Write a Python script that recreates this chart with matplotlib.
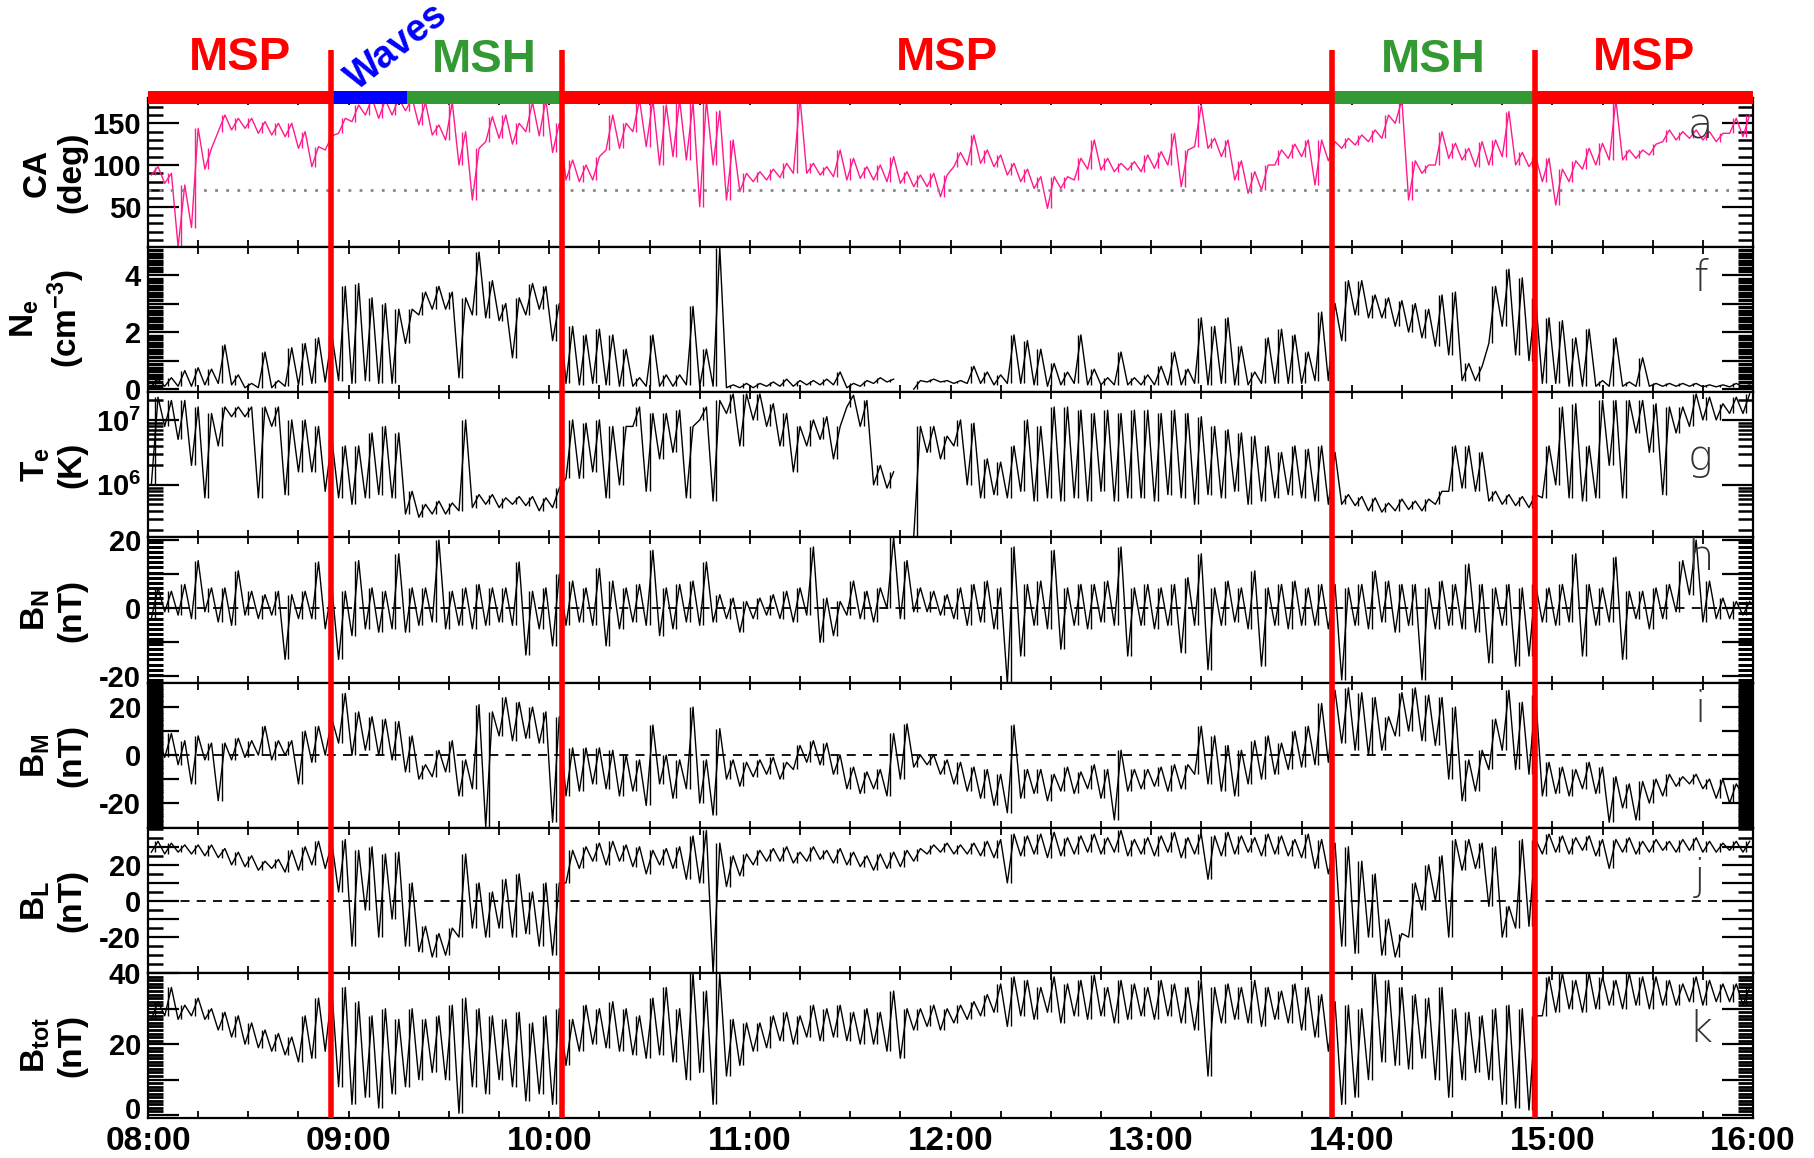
import numpy as np
import matplotlib
matplotlib.use("Agg")
import matplotlib.pyplot as plt
import matplotlib.ticker as mtick
from matplotlib.lines import Line2D
from matplotlib.transforms import blended_transform_factory, ScaledTranslation

plt.rcParams["font.family"] = ["Liberation Sans", "DejaVu Sans"]
plt.rcParams["mathtext.fontset"] = "custom"
plt.rcParams["mathtext.rm"] = "Liberation Sans"
plt.rcParams["mathtext.bf"] = "Liberation Sans:bold"
plt.rcParams["mathtext.default"] = "bf"
plt.rcParams["axes.unicode_minus"] = False

#%% data: 4-min bins from 08:00, low / high value read in each bin
nan = np.nan

ca_lo = [88, 78, 2, 25, 95, 140, 142, 144, 138, 136,
         134, 120, 98, 118, 138, 152, 160, 156, 160, 165,
         148, 136, 130, 100, 58, 128, 132, 125, 140, 135,
         115, 82, 80, 82, 118, 120, 140, 122, 100, 110,
         106, 50, 100, 58, 68, 80, 82, 85, 90, 90,
         88, 86, 82, 84, 82, 80, 78, 74, 74, 62,
         98, 100, 102, 98, 88, 80, 72, 48, 72, 82,
         95, 94, 92, 94, 92, 96, 100, 74, 122, 120,
         110, 82, 66, 70, 100, 108, 110, 76, 105, 120,
         124, 128, 132, 150, 58, 90, 100, 108, 106, 98,
         100, 110, 100, 98, 80, 52, 80, 95, 100, 106,
         106, 108, 112, 128, 130, 132, 130, 128, 138, 134]
ca_hi = [98, 90, 76, 144, 120, 160, 156, 156, 152, 150,
         150, 140, 122, 135, 156, 172, 180, 178, 180, 180,
         175, 148, 175, 140, 120, 158, 160, 150, 175, 178,
         150, 106, 100, 110, 160, 150, 178, 178, 172, 178,
         175, 178, 165, 130, 90, 92, 95, 102, 180, 102,
         98, 118, 108, 98, 100, 110, 92, 88, 90, 88,
         115, 136, 118, 112, 102, 95, 86, 86, 86, 108,
         130, 108, 102, 104, 112, 116, 138, 118, 172, 132,
         130, 105, 92, 100, 118, 125, 130, 130, 128, 132,
         136, 142, 160, 178, 105, 100, 140, 126, 120, 128,
         130, 164, 115, 110, 108, 95, 105, 120, 126, 178,
         118, 118, 125, 142, 140, 142, 140, 138, 156, 160]

ne_lo = [0.1, 0.1, 0.1, 0.1, 0.15, 0.2, 0.15, 0.05, 0.05, 0.05,
         0.1, 0.15, 0.2, 0.25, 0.3, 0.2, 0.3, 0.2, 0.2, 1.6,
         2.6, 2.8, 2.8, 0.4, 2.6, 2.5, 2.4, 1.1, 2.6, 2.8,
         1.7, 0.2, 0.15, 0.2, 0.15, 0.1, 0.1, 0.1, 0.1, 0.1,
         0.15, 0.1, 0.1, 0.05, 0.05, 0.05, 0.1, 0.1, 0.1, 0.15,
         0.15, 0.15, 0.05, 0.1, 0.2, 0.25, nan, 0.0, 0.25, 0.25,
         0.2, 0.2, 0.2, 0.15, 0.2, 0.2, 0.15, 0.1, 0.15, 0.2,
         0.15, 0.15, 0.15, 0.15, 0.15, 0.15, 0.15, 0.15, 0.2, 0.15,
         0.2, 0.15, 0.15, 0.2, 0.2, 0.2, 0.2, 0.3, 0.3, 1.7,
         2.6, 2.5, 2.5, 2.2, 2.0, 1.8, 1.5, 1.2, 0.3, 0.3,
         1.6, 2.2, 1.2, 1.0, 0.2, 0.2, 0.1, 0.1, 0.1, 0.1,
         0.1, 0.1, 0.1, 0.1, 0.1, 0.1, 0.08, 0.08, 0.08, 0.08]
ne_hi = [0.35, 0.4, 0.65, 0.75, 0.7, 1.55, 0.5, 0.2, 1.3, 0.3,
         1.45, 1.6, 1.8, 1.9, 3.6, 3.7, 3.2, 3.0, 2.8, 2.8,
         3.4, 3.6, 3.4, 3.2, 4.8, 3.8, 3.0, 3.2, 3.7, 3.6,
         3.0, 2.2, 1.9, 2.1, 1.9, 1.4, 0.4, 1.9, 0.5, 0.5,
         2.9, 1.4, 4.95, 0.15, 0.2, 0.2, 0.25, 0.35, 0.3, 0.3,
         0.35, 0.6, 0.2, 0.3, 0.4, 0.35, nan, 0.3, 0.35, 0.3,
         0.3, 0.8, 0.6, 0.5, 1.9, 1.7, 1.4, 0.9, 0.6, 1.9,
         0.7, 0.4, 1.3, 0.4, 0.5, 0.8, 1.3, 0.7, 2.5, 2.2,
         2.5, 1.5, 0.6, 1.8, 2.1, 1.9, 1.3, 2.7, 3.0, 3.8,
         3.8, 3.3, 3.2, 3.1, 3.0, 2.8, 3.3, 3.4, 0.9, 0.8,
         3.6, 4.2, 3.9, 3.2, 2.5, 2.4, 1.8, 2.1, 0.3, 1.8,
         0.25, 1.1, 0.2, 0.2, 0.2, 0.2, 0.15, 0.15, 0.2, 0.15]

# log10(Te)
te_lo = [6.0, 6.9, 6.7, 6.3, 5.8, 6.6, 7.05, 7.05, 5.8, 6.9,
         5.85, 6.2, 6.2, 5.9, 5.8, 5.7, 5.8, 5.85, 5.8, 5.55,
         5.5, 5.55, 5.55, 5.6, 5.65, 5.7, 5.65, 5.7, 5.68, 5.6,
         5.65, 6.1, 6.1, 6.2, 5.8, 6.0, 6.9, 5.9, 6.4, 6.5,
         5.8, 7.0, 5.75, 7.1, 6.6, 7.0, 6.9, 6.6, 6.2, 6.6,
         6.7, 6.4, 7.2, 6.9, 6.0, 5.95, nan, 5.2, 6.5, 6.4,
         6.6, 6.0, 5.8, 5.85, 5.8, 5.9, 5.75, 5.8, 5.75, 5.8,
         5.75, 5.9, 5.75, 5.8, 5.8, 5.75, 5.85, 5.8, 5.7, 5.85,
         5.8, 5.9, 5.7, 5.75, 5.8, 5.85, 5.8, 5.75, 5.7, 5.7,
         5.68, 5.6, 5.58, 5.6, 5.62, 5.6, 5.7, 5.9, 5.95, 5.9,
         5.75, 5.7, 5.68, 5.65, 5.8, 6.0, 5.8, 5.75, 5.8, 6.3,
         5.8, 6.8, 6.5, 5.85, 6.8, 6.9, 7.0, 7.0, 7.1, 7.1]
te_hi = [7.35, 7.3, 7.3, 7.2, 7.1, 7.2, 7.2, 7.2, 7.2, 7.2,
         7.0, 7.0, 6.9, 6.7, 6.6, 6.6, 6.8, 6.9, 6.8, 5.9,
         5.7, 5.75, 5.72, 7.0, 5.85, 5.85, 5.8, 5.82, 5.82, 5.8,
         5.95, 7.0, 6.95, 7.0, 6.9, 6.9, 7.2, 7.1, 7.1, 7.15,
         6.9, 7.2, 7.3, 7.4, 7.4, 7.4, 7.25, 7.1, 6.9, 7.0,
         7.05, 6.9, 7.38, 7.3, 6.3, 6.2, nan, 6.9, 6.9, 6.75,
         7.0, 6.95, 6.4, 6.35, 6.6, 7.0, 6.9, 7.2, 7.2, 7.15,
         7.1, 7.15, 7.1, 7.15, 7.15, 7.1, 7.15, 7.1, 7.05, 6.9,
         6.85, 6.8, 6.75, 6.6, 6.5, 6.6, 6.55, 6.6, 6.5, 5.85,
         5.82, 5.8, 5.72, 5.78, 5.75, 5.78, 5.9, 6.6, 6.6, 6.5,
         5.9, 5.85, 5.82, 5.85, 6.6, 7.2, 7.25, 6.6, 7.3, 7.3,
         7.3, 7.3, 7.25, 7.2, 7.2, 7.4, 7.35, 7.25, 7.35, 7.4]

bn_lo = [-3, -1, -2, -3, -1, -4, -5, -2, -3, -2,
         -15, -3, -3, -6, -15, -8, -6, -7, -6, -7,
         -5, -4, -6, -5, -6, -5, -4, -5, -13.7, -6,
         -11, -5, -4, -5, -11, -6, -4, -5, -8, -6,
         -4, -5, -4, -3, -7, -3, -2, -3, -4, -2,
         -10, -8, -2, -3, -4, 0, -3, -1, -1, -2,
         -3, -5, -4, -6, -22, -14, -5, -6, -12, -5,
         -6, -4, -5, -14, -5, -6, -5, -13, -5, -18,
         -5, -4, -6, -17, -5, -6, -5, -5, -6, -21,
         -5, -6, -4, -7, -5, -21, -6, -5, -6, -7,
         -16, -5, -17, -14, -4, -5, -4, -14, -5, -4,
         -15, -3, -6, -3, -1, 4, -4, -3, -3, -2]
bn_hi = [6, 5, 7, 14, 6, 6, 11, 5, 4, 5,
         4, 5, 13.6, 6, 5, 14, 6, 5, 16, 6,
         6, 20, 5, 6, 7, 6, 6, 13.6, 5, 6,
         10, 8, 6, 11.7, 8, 6, 7, 17, 6, 7,
         8, 13.6, 4, 3, 2, 3, 4, 5, 6, 18,
         3, 2, 8, 5, 6, 20.8, 14, 6, 5, 4,
         6, 7, 8, 6, 18, 7, 8, 17, 6, 7,
         7, 8, 18, 6, 7, 6, 7, 9, 16, 6,
         8, 6, 11, 6, 7, 8, 6, 7, 7, 6,
         7, 11, 8, 7, 7, 6, 8, 7, 13, 7,
         6, 7, 6, 7, 6, 7, 16, 7, 6, 15,
         5, 5, 6, 7, 14, 20, 8, 3, 2, 2]

bm_lo = [-2, -1, -4, -12, -2, -19, -2, -1, 0, -2,
         0, -12, -3, 0, 5, 0, 2, 0, -2, -7,
         -10, -9, -7, -17, -14, -30, 8, 6, 7, 5,
         -28, -17, -15, -12, -14, -17, -15, -21, -12, -18,
         -14, -20, -25, -10, -13, -9, -8, -10, -6, -3,
         -4, -8, -14, -16, -14, -17, -10, -5, -4, -8,
         -12, -15, -18, -21, -24, -18, -16, -19, -15, -16,
         -14, -18, -27, -15, -14, -13, -15, -14, -8, -12,
         -15, -17, -12, -10, -8, -6, -5, -4, -3, 5,
         2, 0, 2, 8, 10, 6, 4, -10, -19, -15,
         -6, 2, -6, -8, -17, -16, -17, -14, -16, -28,
         -22, -27, -20, -17, -13, -12, -14, -18, -20, -17]
bm_hi = [8, 9, 6, 8, 5, 5, 7, 6, 12, 6,
         6, 10, 12, 15, 25.7, 18, 16, 15, 14, 8,
         -4, 2, 6, -2, 21, 18, 24, 22, 20, 18,
         16, 3, 3, 3, 2, 0, -2, 12.5, 0, -2,
         20, -2, 11, -2, -3, -2, -1, -3, 4, 6,
         5, 0, -5, -7, -6, 9, 13, 0, 0, -2,
         -3, -5, -6, -8, 12.5, -6, -6, -8, -5, -7,
         -4, -6, 2, -6, -6, -5, -4, -4, 12, 8,
         4, 2, 6, 8, 5, 10, 12, 21.5, 27, 28,
         26, 24, 16, 26, 28, 25, 24, 20, -2, 2,
         15, 27, 22, 25, -3, -5, -6, -3, -5, -9,
         -12, -11, -10, -8, -9, -8, -10, -10, -12, -12]

bl_lo = [27, 26, 27, 26, 25, 24, 20, 19, 17, 18,
         16, 17, 20, 18, 5, -25, -5, -20, -10, -25,
         -28, -31, -30, -20, -15, -20, -15, -20, -18, -25,
         -30, 10, 18, 22, 20, 22, 19, 15, 20, 18,
         12, 10, -40, 8, 14, 20, 22, 22, 21, 22,
         23, 21, 20, 19, 17, 18, 19, 22, 26, 27,
         26, 26, 25, 24, 10, 25, 26, 24, 25, 26,
         27, 26, 27, 25, 26, 25, 27, 24, 26, 12,
         25, 26, 27, 25, 26, 25, 24, 18, 15, -25,
         -29, -20, -30, -31, -20, -5, 0, -20, 17, 18,
         -3, -20, -15, -14, 26, 27, 26, 28, 25, 18,
         27, 26, 27, 28, 27, 28, 27, 27, 28, 27]
bl_hi = [33, 32, 31, 31, 31, 29, 27, 25, 22, 23,
         28, 30, 33, 32, 34, 28, 30, 26, 27, 10,
         -14, -18, -15, 26, 10, 5, 12, 15, 5, 10,
         10, 28, 30, 32, 33, 31, 30, 28, 29, 30,
         36, 39, 32, 25, 26, 28, 29, 30, 27, 30,
         28, 29, 27, 25, 26, 27, 28, 29, 31, 32,
         31, 32, 33, 34, 37, 36, 37, 38, 35, 36,
         37, 35, 39, 34, 35, 36, 38, 35, 37, 36,
         38, 36, 35, 37, 36, 34, 37, 34, 32, 30,
         22, 15, -10, -18, 10, 20, 25, 34, 34, 32,
         30, -3, 34, 34, 37, 36, 35, 36, 34, 34,
         35, 33, 34, 33, 34, 35, 33, 32, 33, 33]

bt_lo = [27, 28, 27, 28, 27, 24, 22, 20, 19, 18,
         17, 15, 16, 18, 8, 3, 5, 2, 6, 8,
         10, 12, 10, 0.5, 8, 6, 10, 8, 4, 6,
         3, 14, 18, 20, 19, 18, 17, 16, 17, 15,
         10, 12, 3, 11, 14, 18, 19, 21, 20, 22,
         21, 22, 21, 20, 20, 18, 16, 24, 25, 24,
         26, 27, 28, 29, 25, 28, 27, 29, 26, 28,
         27, 28, 26, 27, 28, 27, 28, 26, 24, 11,
         26, 27, 26, 25, 27, 26, 24, 22, 18, 3,
         5, 10, 15, 14, 13, 16, 10, 5, 10, 12,
         10, 3, 2, 1.4, 28, 29, 30, 29, 30, 31,
         30, 31, 30, 31, 31, 32, 31, 32, 32, 31]
bt_hi = [32, 36, 31, 33, 30, 29, 28, 26, 24, 23,
         22, 28, 33, 35, 36, 32, 28, 30, 27, 30,
         27, 28, 31, 33, 30, 28, 27, 29, 26, 28,
         30, 27, 31, 30, 32, 30, 28, 33, 36, 30,
         40, 35, 40, 27, 26, 26, 28, 29, 28, 31,
         30, 31, 29, 30, 29, 35, 30, 30, 31, 30,
         31, 32, 34, 37, 39, 38, 36, 39, 37, 38,
         39.5, 36, 38, 37, 36, 38, 37, 36, 38, 36,
         37, 36, 38, 36, 35, 37, 36, 34, 32, 31,
         30, 40, 38, 36, 34, 33, 36, 30, 29, 28,
         30, 31, 30, 28, 39, 40, 38, 40, 39, 38,
         40, 39, 39, 38, 37, 39, 38, 37, 37, 36]

# region boundaries (hours) and region names
t_cross = [8.913, 10.065, 13.903, 14.912]
t_waves_end = 9.292
regions = ["MSP", "MSH", "MSP", "MSH", "MSP"]

#%%
def trace(lo, hi):
    lo = np.asarray(lo, float)
    hi = np.asarray(hi, float)
    start = 8 + np.arange(len(lo)) * 4 / 60
    t = np.empty(2 * len(lo))
    y = np.empty(2 * len(lo))
    t[0::2] = start + 1 / 60
    t[1::2] = start + 3 / 60
    y[0::2] = lo
    y[1::2] = hi
    return t, y


def draw(ax, lo, hi, color="black", log=False):
    t, y = trace(lo, hi)
    if log:
        y = 10 ** y
    ax.plot(t, y, color=color, lw=1.0)
    # bin range as a vertical stroke
    tc = 8 + (np.arange(len(lo)) * 4 + 2) / 60
    lo_, hi_ = np.asarray(lo, float), np.asarray(hi, float)
    if log:
        lo_, hi_ = 10 ** lo_, 10 ** hi_
    ax.vlines(tc, lo_, hi_, color=color, lw=1.0)


def style(ax, major, labels, minor, mw=1.8):
    ax.set_yticks(major)
    ax.set_yticklabels(labels, fontsize=21, fontweight="bold")
    if minor is not None:
        ax.yaxis.set_minor_locator(mtick.MultipleLocator(minor))
    ax.tick_params(axis="y", which="major", direction="in", length=22,
                   width=1.6, left=True, right=True, pad=5)
    ax.tick_params(axis="y", which="minor", direction="in", length=11,
                   width=mw, left=True, right=True)
    ax.set_xlim(8, 16)
    ax.set_xticks(np.arange(8, 16.01, 1))
    ax.xaxis.set_minor_locator(mtick.MultipleLocator(0.25))
    ax.tick_params(axis="x", which="both", direction="in", length=5,
                   width=1.3, top=True, bottom=True)
    for s in ax.spines.values():
        s.set_linewidth(1.6)


W, H = 1814, 1158
fig = plt.figure(figsize=(W / 100, H / 100), dpi=100)
x0, x1 = 148, 1753
edges = [98.3, 246.7, 391.7, 537.4, 683.3, 828.3, 973.3, 1117.7]
axes = []
for i in range(7):
    ax = fig.add_axes([x0 / W, 1 - edges[i + 1] / H, (x1 - x0) / W,
                       (edges[i + 1] - edges[i]) / H])
    axes.append(ax)
ax_ca, ax_ne, ax_te, ax_bn, ax_bm, ax_bl, ax_bt = axes

draw(ax_ca, ca_lo, ca_hi, color="#ff1a8c")
ax_ca.axhline(70, color="#888888", lw=2, ls=(0, (1, 3)))
ax_ca.set_ylim(2, 180)
style(ax_ca, [50, 100, 150], ["50", "100", "150"], 10)

draw(ax_ne, ne_lo, ne_hi)
ax_ne.set_ylim(-0.09, 4.99)
style(ax_ne, [0, 1, 2, 3, 4], ["0", "", "2", "", "4"], 0.125, 2.4)

draw(ax_te, te_lo, te_hi, log=True)
ax_te.set_yscale("log")
ax_te.set_ylim(10 ** 5.19, 10 ** 7.435)
style(ax_te, [1e6, 1e7], ["10$^{6}$", "10$^{7}$"], None)
ax_te.yaxis.set_minor_locator(mtick.LogLocator(base=10, subs=np.arange(2, 10)))
ax_te.yaxis.set_minor_formatter(mtick.NullFormatter())

draw(ax_bn, bn_lo, bn_hi)
ax_bn.set_ylim(-22, 20.8)
style(ax_bn, [-20, -10, 0, 10, 20], ["-20", "", "0", "", "20"], 1.5, 2.2)

draw(ax_bm, bm_lo, bm_hi)
ax_bm.set_ylim(-30.5, 29.9)
style(ax_bm, [-20, -10, 0, 10, 20], ["-20", "", "0", "", "20"], 1, 2.4)

draw(ax_bl, bl_lo, bl_hi)
ax_bl.set_ylim(-40, 40.2)
style(ax_bl, [-20, -10, 0, 10, 20, 30], ["-20", "", "0", "", "20", ""], 5)

draw(ax_bt, bt_lo, bt_hi)
ax_bt.set_ylim(-0.76, 40)
style(ax_bt, [0, 10, 20, 30, 40], ["0", "", "20", "", "40"], 1, 2.0)

for ax in [ax_bn, ax_bm, ax_bl]:
    ax.axhline(0, color="black", lw=1.3, ls=(0, (5, 4)))

for ax in axes[:-1]:
    ax.tick_params(axis="x", labelbottom=False)
ax_bt.set_xticklabels(["%02d:00" % h for h in range(8, 17)],
                      fontsize=24, fontweight="bold")
ax_bt.tick_params(axis="x", pad=6)

# lift the bottom "0" a little so it clears the 08:00 label
zero_lab = ax_bt.get_yticklabels()[0]
zero_lab.set_transform(zero_lab.get_transform()
                       + ScaledTranslation(0, 5 / 72, fig.dpi_scale_trans))

ylabels = ["CA\n(deg)", "N$_e$\n(cm$^{-3}$)", "T$_e$\n(K)", "B$_N$\n(nT)",
           "B$_M$\n(nT)", "B$_L$\n(nT)", "B$_{tot}$\n(nT)"]
letters = [("a", 0.81), ("f", 0.78), ("g", 0.55), ("h", 0.86),
           ("i", 0.82), ("j", 0.66), ("k", 0.61)]
for ax, lab, (let, ly) in zip(axes, ylabels, letters):
    ax.set_ylabel(lab, fontsize=24, fontweight="bold", linespacing=1.15)
    ax.yaxis.set_label_coords(-0.038, 0.5)
    ax.text(0.967, ly, let, transform=ax.transAxes, fontsize=30,
            fontweight="light", family="DejaVu Sans", color="#333333",
            ha="center", va="center")

#%% region bar on top
ax_bar = fig.add_axes([x0 / W, 1 - 104.3 / H, (x1 - x0) / W, 104.3 / H])
ax_bar.set_xlim(8, 16)
ax_bar.set_ylim(0, 104.3)
ax_bar.axis("off")
red, blue, green = "#ff0000", "#0000ff", "#339933"
segs = [(8, t_cross[0], red), (t_cross[0], t_waves_end, blue),
        (t_waves_end, t_cross[1], green), (t_cross[1], t_cross[2], red),
        (t_cross[2], t_cross[3], green), (t_cross[3], 16, red)]
for a, b, c in segs:
    ax_bar.fill_between([a, b], 0, 13.6, color=c, lw=0)

bounds = [8] + t_cross + [16]
for k, name in enumerate(regions):
    xc = 0.5 * (bounds[k] + bounds[k + 1])
    if k == 1:
        xc = 0.5 * (t_waves_end + t_cross[1])
    col = red if name == "MSP" else green
    yc = 46.8 if name == "MSP" else 44.5
    ax_bar.text(xc, yc, name, color=col, fontsize=34, fontweight="bold",
                ha="center", va="center")
ax_bar.text(9.24, 57, "Waves", color=blue,
            fontsize=27, fontweight="bold", rotation=38,
            ha="center", va="center")

# red crossing lines through all panels
trans = blended_transform_factory(ax_bt.transData, fig.transFigure)
for tc in t_cross:
    fig.add_artist(Line2D([tc, tc], [1 - 50 / H, 1 - 1117.7 / H],
                          transform=trans, color=red, lw=4.0,
                          solid_capstyle="butt", zorder=5))

fig.savefig("out.png", dpi=100, facecolor="w")
